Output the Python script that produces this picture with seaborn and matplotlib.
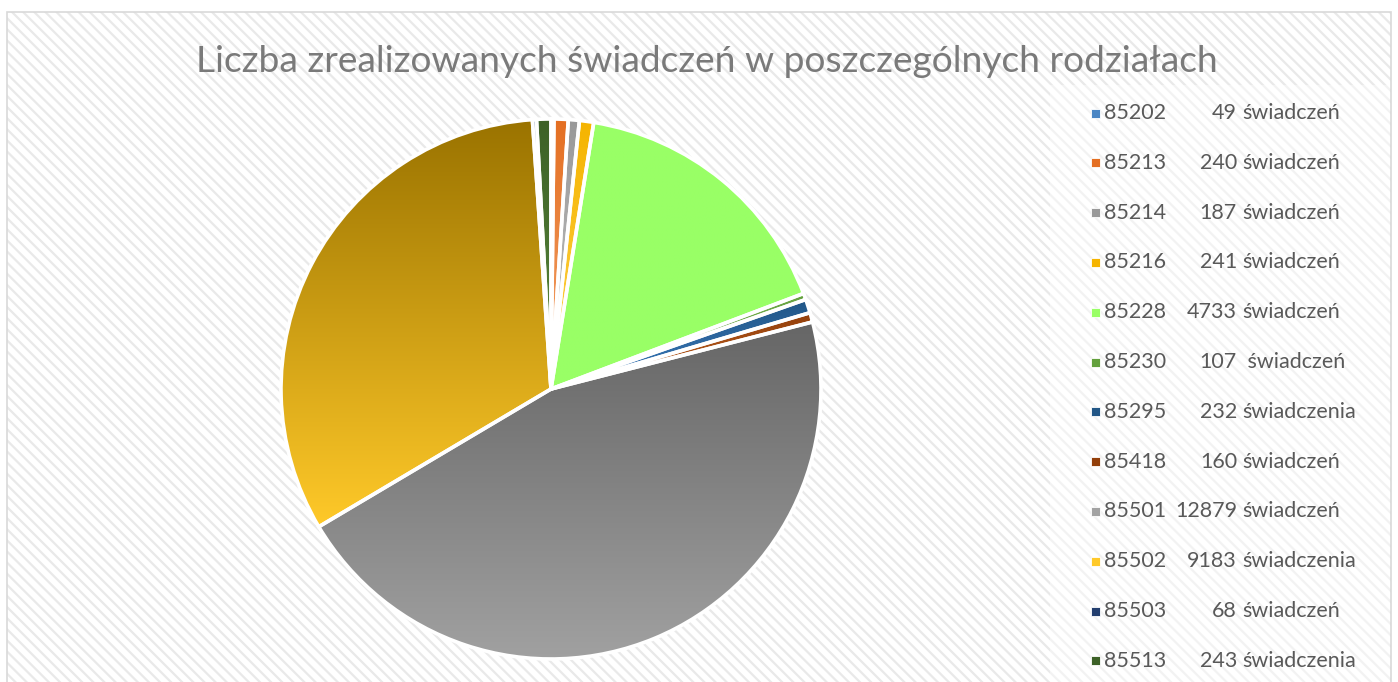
import matplotlib
matplotlib.use("Agg")
import matplotlib.pyplot as plt
import numpy as np
import seaborn as sns
from matplotlib.colors import LinearSegmentedColormap
from matplotlib.patches import Rectangle

codes = ["85202", "85213", "85214", "85216", "85228", "85230",
         "85295", "85418", "85501", "85502", "85503", "85513"]
values = [49, 240, 187, 241, 4733, 107, 232, 160, 12879, 9183, 68, 243]
units = ["świadczeń", "świadczeń", "świadczeń", "świadczeń", "świadczeń", " świadczeń",
         "świadczenia", "świadczeń", "świadczeń", "świadczenia", "świadczeń", "świadczenia"]
# gradient colours: top (dark) -> bottom (light)
top_colors = ["#4a86c4", "#e46f22", "#999999", "#f5b400", "#99ff66", "#63a03c",
              "#215686", "#933f0a", "#666666", "#9a7300", "#223e6e", "#3d6127"]
bottom_colors = ["#8ab8e6", "#f4a46c", "#c4c4c4", "#ffd24d", "#99ff66", "#98cc78",
                 "#3c7cbf", "#c46526", "#a2a2a2", "#ffc929", "#3d62a6", "#5a8a3c"]

title = "Liczba zrealizowanych świadczeń w poszczególnych rodziałach"

sns.set_theme(style="white")
plt.rcParams["font.family"] = ["Lato", "DejaVu Sans"]
plt.rcParams["hatch.linewidth"] = 1.6

W, H = 1398, 682
fig = plt.figure(figsize=(W / 100, H / 100), dpi=100)
fig.patch.set_facecolor("white")

# hatched chart area background + frame
bg = Rectangle((7 / W, -0.05), (1391 - 7) / W, (H - 12) / H + 0.05, transform=fig.transFigure,
               facecolor="white", edgecolor="#e9e9e9", hatch="\\\\\\", linewidth=0, zorder=0)
fig.patches.append(bg)
frame = Rectangle((7 / W, -0.05), (1391 - 7) / W, (H - 12) / H + 0.05, transform=fig.transFigure,
                  facecolor="none", edgecolor="#d9d9d9", linewidth=1.2, zorder=1)
fig.patches.append(frame)
leg_bg = Rectangle((1050 / W, 0), (1390 - 1050) / W, (H - 85) / H, transform=fig.transFigure,
                   facecolor="white", edgecolor="none", alpha=0.45, zorder=1)
fig.patches.append(leg_bg)

fig.text(707 / W, 1 - 62 / H, title, ha="center", va="center", fontsize=26.7, color="#7a7a7a")

# pie axes: center (551, 389) px, radius 270 px
lim = 1.03
R = 270
cx, cy = 551, H - 389
size = 2 * lim * R
ax = fig.add_axes([(cx - size / 2) / W, (cy - size / 2) / H, size / W, size / H])
ax.set_zorder(5)
ax.set_facecolor("none")

wedges, _ = ax.pie(values, startangle=90, counterclock=False,
                   colors=top_colors,
                   wedgeprops=dict(edgecolor="white", linewidth=2.6))

grad = np.linspace(0, 1, 256).reshape(-1, 1)
for w, c0, c1 in zip(wedges, top_colors, bottom_colors):
    verts = w.get_path().vertices
    x0, y0 = verts.min(axis=0)
    x1, y1 = verts.max(axis=0)
    cmap = LinearSegmentedColormap.from_list("g", [c0, c1])
    im = ax.imshow(grad, cmap=cmap, extent=[x0, x1, y0, y1], origin="upper",
                   aspect="auto", zorder=1, interpolation="bilinear")
    im.set_clip_path(w)
    w.set_facecolor("none")
    w.set_zorder(2)

ax.set_xlim(-lim, lim)
ax.set_ylim(-lim, lim)
ax.set_aspect("equal")
ax.axis("off")

# legend
row0, step = 113, 49.8
for i, (code, v, u, c0, c1) in enumerate(zip(codes, values, units, top_colors, bottom_colors)):
    y = 1 - (row0 + i * step) / H
    mk = Rectangle((1091 / W, y - 4.5 / H), 9 / W, 9 / H, transform=fig.transFigure,
                   facecolor=c1 if i in (8, 9) else c0, edgecolor="white", linewidth=0.6, zorder=3)
    fig.patches.append(mk)
    fig.text(1104 / W, y, code, ha="left", va="center", fontsize=15.5, color="#595959")
    fig.text(1237 / W, y, str(v), ha="right", va="center", fontsize=15.5, color="#595959")
    fig.text(1242 / W, y, u, ha="left", va="center", fontsize=15.5, color="#595959")

fig.savefig("out.png", dpi=100)
